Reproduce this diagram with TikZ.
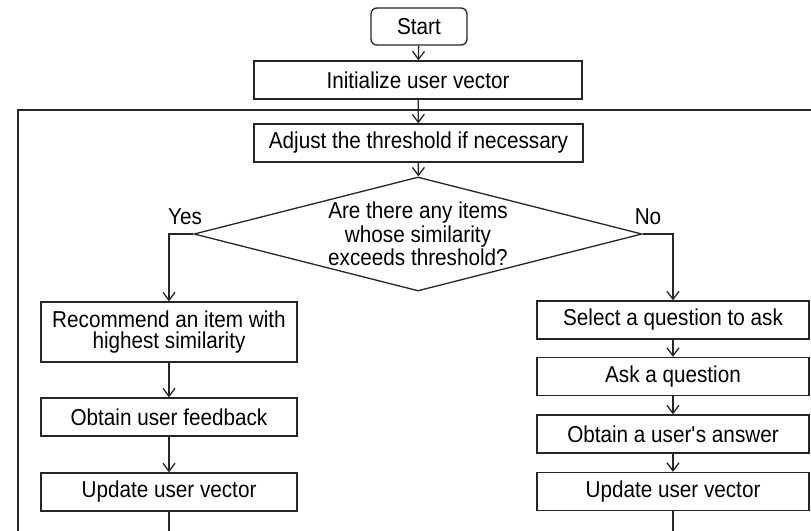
\documentclass[tikz,border=0pt]{standalone}
\usepackage{fontspec}
\setmainfont{Liberation Sans}[FakeStretch=0.9]
\usepackage{tikz}
\usetikzlibrary{shapes.geometric}
\usetikzlibrary{arrows.meta}
\newcommand{\flowfont}{\fontsize{11.5}{9.4}\selectfont}
\tikzset{
   process/.style={draw=black!85, line width=0.65pt, inner sep=0pt,
      minimum width=#1, minimum height=19pt, align=center, font=\flowfont},
   process/.default=128pt,
   startbox/.style={process=48pt, minimum height=18.5pt, rounded corners=3pt},
   decision/.style={draw=black!85, line width=0.65pt, shape=diamond, aspect=3.9,
      inner sep=0pt, minimum width=224pt, minimum height=57pt,
      align=center, font=\flowfont},
   branchlabel/.style={inner sep=0pt, font=\flowfont},
   flow/.style={draw=black!85, line width=0.65pt,
      -{Straight Barb[length=4pt,width=6pt]}},
   plain/.style={draw=black!85, line width=0.65pt},
}

\begin{document}
\begin{tikzpicture}[x=0.5pt, y=-0.5pt]
  \useasboundingbox (0,0) rectangle (811,531);
  % main column
  \node[startbox] (start) at (419,26.5) {Start};
  \node[process=164pt] (init) at (418,80) {Initialize user vector};
  \node[process=164.5pt] (adjust) at (418.5,143) {Adjust the threshold if necessary};
  \node[decision] (decide) at (418,234) {Are there any items\\whose similarity\\exceeds threshold?};
  \node[branchlabel] (yes) at (185,217) {Yes};
  \node[branchlabel] (no) at (648,217) {No};
  % yes branch
  \node[process, minimum height=30pt] (recommend) at (169,332) {Recommend an item with\\[1pt]highest similarity};
  \node[process] (feedback) at (169,417) {Obtain user feedback};
  \node[process] (updateL) at (169,492) {Update user vector};
  % no branch
  \node[process=136pt] (select) at (673,320) {Select a question to ask};
  \node[process=136pt] (ask) at (673,376.5) {Ask a question};
  \node[process=136pt] (answer) at (673,434) {Obtain a user\textquotesingle s answer};
  \node[process=136pt] (updateR) at (673,491.5) {Update user vector};
  % loop frame and loose ends
  \coordinate (frameTR) at (811,110);
  \coordinate (frameBL) at (18,531);
  \coordinate (outL) at (169,531);
  \coordinate (outR) at (673,531);

  \draw[plain] (frameTR) -| (frameBL);
  \draw[flow] (start) -- (init);
  \draw[flow] (init) -- (adjust);
  \draw[flow] (adjust) -- (decide);
  \draw[flow] (decide.west) -| (recommend);
  \draw[flow] (decide.east) -| (select);
  \draw[flow] (recommend) -- (feedback);
  \draw[flow] (feedback) -- (updateL);
  \draw[flow] (select) -- (ask);
  \draw[flow] (ask) -- (answer);
  \draw[flow] (answer) -- (updateR);
  \draw[plain] (updateL) -- (outL);
  \draw[plain] (updateR) -- (outR);
\end{tikzpicture}
\end{document}
